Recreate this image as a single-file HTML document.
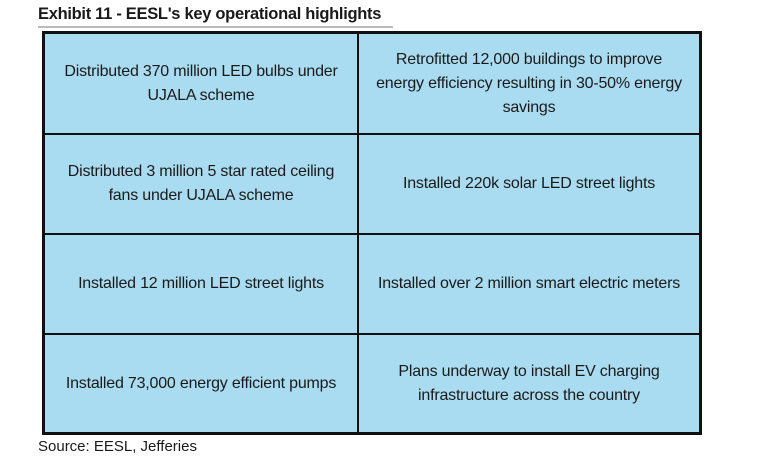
<!DOCTYPE html>
<html><head><meta charset="utf-8"><style>
body{margin:0;width:779px;height:466px;background:#fff;position:relative;font-family:"Liberation Sans",sans-serif;color:#1a1a1a;overflow:hidden}
#title{position:absolute;left:38px;top:5px;font-size:16.5px;font-weight:bold;letter-spacing:-0.3px}
#rule{position:absolute;left:38px;top:26px;width:355px;height:2px;background:#bbb}
#tbl{position:absolute;left:42px;top:31px;width:660px;height:404px;box-sizing:border-box;border:3px solid #111;background:#a9dcf0}
.c{position:absolute;display:flex;align-items:center;justify-content:center;text-align:center;font-size:16px;line-height:24px;letter-spacing:-0.2px;box-sizing:border-box;padding:0 4px}
.v{position:absolute;top:0;bottom:0;left:312px;width:2px;background:#111}
.h{position:absolute;left:0;right:0;height:2px;background:#111}
#source{position:absolute;left:38px;top:438px;font-size:15px}
</style></head><body>
<div id="title">Exhibit 11 - EESL's key operational highlights</div>
<div id="rule"></div>
<div id="tbl">
<div class="v"></div>
<div class="h" style="top:99px"></div>
<div class="h" style="top:199px"></div>
<div class="h" style="top:299px"></div>
<div class="c" style="left:0;width:312px;top:0;height:99px">Distributed 370 million LED bulbs under<br>UJALA scheme</div>
<div class="c" style="left:314px;width:340px;top:0;height:99px">Retrofitted 12,000 buildings to improve<br>energy efficiency resulting in 30-50% energy<br>savings</div>
<div class="c" style="left:0;width:312px;top:101px;height:98px">Distributed 3 million 5 star rated ceiling<br>fans under UJALA scheme</div>
<div class="c" style="left:314px;width:340px;top:101px;height:98px">Installed 220k solar LED street lights</div>
<div class="c" style="left:0;width:312px;top:201px;height:98px">Installed 12 million LED street lights</div>
<div class="c" style="left:314px;width:340px;top:201px;height:98px">Installed over 2 million smart electric meters</div>
<div class="c" style="left:0;width:312px;top:301px;height:97px">Installed 73,000 energy efficient pumps</div>
<div class="c" style="left:314px;width:340px;top:301px;height:97px">Plans underway to install EV charging<br>infrastructure across the country</div>
</div>
<div id="source">Source: EESL, Jefferies</div>
</body></html>
